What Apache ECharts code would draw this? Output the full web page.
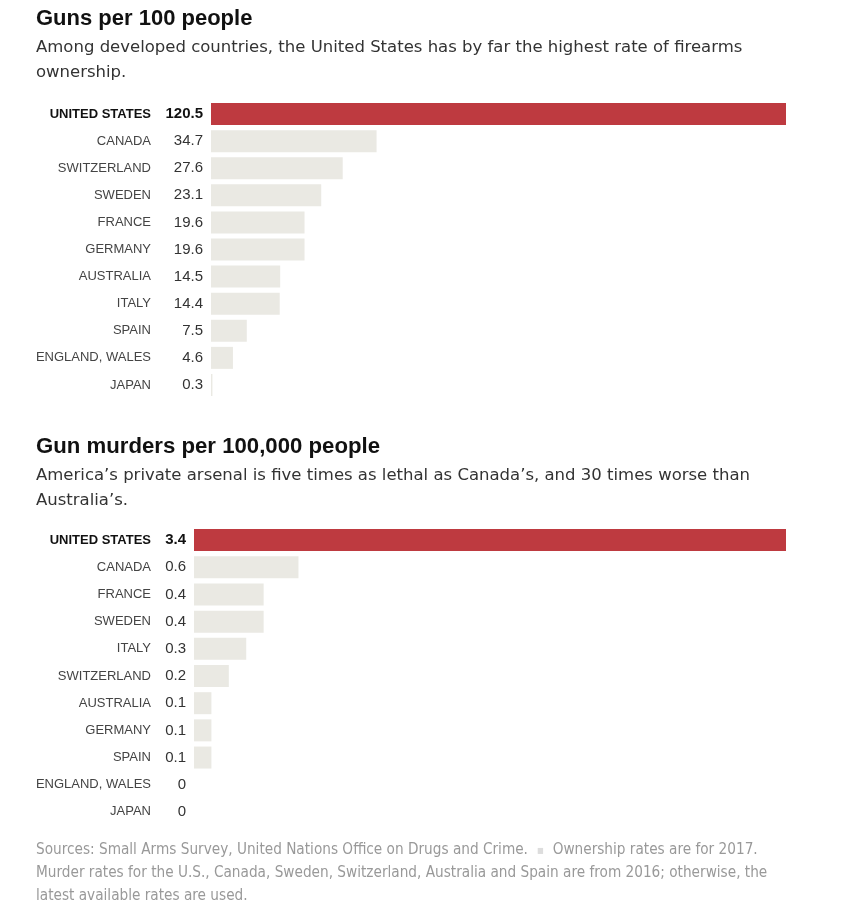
<!DOCTYPE html>
<html>
<head>
<meta charset="utf-8">
<title>Guns per 100 people</title>
<script src="https://cdn.jsdelivr.net/npm/echarts@6/dist/echarts.min.js"></script>
<style>
  html, body { margin: 0; padding: 0; background: #fff; }
  #chart { width: 845px; height: 924px; }
</style>
</head>
<body>
<div id="chart"></div>
<script>
// data
var gunCountries = ['UNITED STATES', 'CANADA', 'SWITZERLAND', 'SWEDEN', 'FRANCE', 'GERMANY',
                    'AUSTRALIA', 'ITALY', 'SPAIN', 'ENGLAND, WALES', 'JAPAN'];
var gunValues = [120.5, 34.7, 27.6, 23.1, 19.6, 19.6, 14.5, 14.4, 7.5, 4.6, 0.3];

var murderCountries = ['UNITED STATES', 'CANADA', 'FRANCE', 'SWEDEN', 'ITALY', 'SWITZERLAND',
                       'AUSTRALIA', 'GERMANY', 'SPAIN', 'ENGLAND, WALES', 'JAPAN'];
var murderValues = [3.4, 0.6, 0.4, 0.4, 0.3, 0.2, 0.1, 0.1, 0.1, 0, 0];

var RED = '#be3a40';
var GREY = '#eae9e3';
var FONT = '"Liberation Sans", Arial, sans-serif';
var SUBFONT = '"DejaVu Sans", sans-serif';

function catData(names) {
    return names.map(function (n, i) {
        return i === 0
            ? { value: n, textStyle: { fontWeight: 'bold', color: '#111' } }
            : n;
    });
}

function barData(vals) {
    return vals.map(function (v, i) {
        return {
            value: v,
            itemStyle: { color: i === 0 ? RED : GREY },
            label: i === 0 ? { fontWeight: 'bold', color: '#111' } : {}
        };
    });
}

var myChart = echarts.init(document.getElementById('chart'));

var option = {
    animation: false,
    textStyle: { fontFamily: FONT },
    title: [
        { text: 'Guns per 100 people', left: 36, top: 8, padding: 0,
          textStyle: { fontSize: 22, fontWeight: 'bold', color: '#111', fontFamily: FONT } },
        { text: 'Among developed countries, the United States has by far the highest rate of firearms\nownership.',
          left: 36, top: 35, padding: 0,
          textStyle: { fontSize: 16.5, fontWeight: 'normal', color: '#333', lineHeight: 25, fontFamily: SUBFONT } },
        { text: 'Gun murders per 100,000 people', left: 36, top: 436, padding: 0,
          textStyle: { fontSize: 22.2, fontWeight: 'bold', color: '#111', fontFamily: FONT } },
        { text: 'America\u2019s private arsenal is five times as lethal as Canada\u2019s, and 30 times worse than\nAustralia\u2019s.',
          left: 36, top: 463, padding: 0,
          textStyle: { fontSize: 16.5, fontWeight: 'normal', color: '#333', lineHeight: 25, fontFamily: SUBFONT } },
        { text: 'Sources: Small Arms Survey, United Nations Office on Drugs and Crime.  {sq|\u25aa}  Ownership rates are for 2017.\n' +
                'Murder rates for the U.S., Canada, Sweden, Switzerland, Australia and Spain are from 2016; otherwise, the\n' +
                'latest available rates are used.',
          left: 36, top: 839, padding: 0,
          textStyle: { fontSize: 15.2, fontWeight: 'normal', color: '#999', lineHeight: 23,
                       fontFamily: '"Liberation Sans Narrow", "DejaVu Sans Condensed", sans-serif',
                       rich: { sq: { color: '#ddd', fontSize: 12 } } } }
    ],
    grid: [
        { left: 211, right: 59, top: 100.5, height: 298 },
        { left: 194, right: 59, top: 526.5, height: 299 }
    ],
    xAxis: [
        { gridIndex: 0, type: 'value', min: 0, max: 120.5, show: false },
        { gridIndex: 1, type: 'value', min: 0, max: 3.4, show: false }
    ],
    yAxis: [
        { gridIndex: 0, type: 'category', inverse: true, data: catData(gunCountries),
          axisLine: { show: false }, axisTick: { show: false },
          axisLabel: { margin: 60, fontSize: 13, color: '#444', fontFamily: FONT } },
        { gridIndex: 1, type: 'category', inverse: true, data: catData(murderCountries),
          axisLine: { show: false }, axisTick: { show: false },
          axisLabel: { margin: 43, fontSize: 13, color: '#444', fontFamily: FONT } }
    ],
    series: [
        { type: 'bar', xAxisIndex: 0, yAxisIndex: 0, barWidth: 22,
          data: barData(gunValues),
          label: { show: true, position: 'left', distance: 8, fontSize: 15, color: '#333', fontFamily: FONT } },
        { type: 'bar', xAxisIndex: 1, yAxisIndex: 1, barWidth: 22,
          data: barData(murderValues),
          label: { show: true, position: 'left', distance: 8, fontSize: 15, color: '#333', fontFamily: FONT } }
    ]
};

myChart.setOption(option);
</script>
</body>
</html>
